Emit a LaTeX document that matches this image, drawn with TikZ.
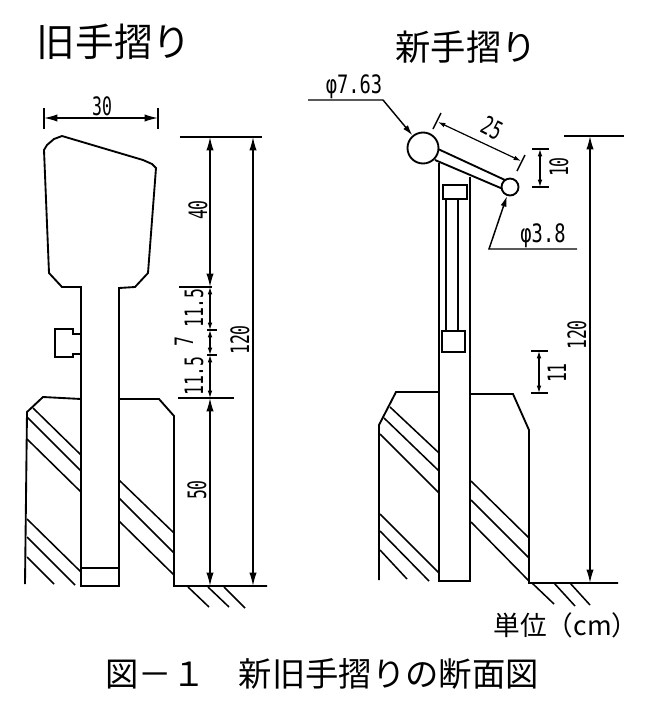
\documentclass[tikz,border=0pt]{standalone}
\usepackage{fontspec}
\usetikzlibrary{arrows.meta}
\newfontfamily\titlefont{Noto Sans CJK JP}
\newfontfamily\dimfont[FakeStretch=0.65]{DejaVu Sans Mono}
\newfontfamily\leaderfont[FakeStretch=0.74]{DejaVu Sans Mono}
\tikzset{
  wall/.style={line width=1.4pt, line join=miter},
  hatch/.style={line width=1.15pt},
  bigdim/.style={line width=1.1pt, {Latex[length=10pt,width=5.5pt]}-{Latex[length=10pt,width=5.5pt]}},
  smalldim/.style={line width=.9pt, {Latex[length=5.5pt,width=3.5pt]}-{Latex[length=5.5pt,width=3.5pt]}},
  leader/.style={line width=1.1pt, -{Latex[length=8pt,width=4.5pt]}},
  tick/.style={line width=1.1pt},
  dimtext/.style={inner sep=0pt, font=\dimfont\fontsize{19pt}{19pt}\selectfont},
  leadertext/.style={inner sep=0pt, font=\leaderfont\fontsize{19pt}{19pt}\selectfont},
  titletext/.style={inner sep=0pt, font=\titlefont\fontsize{#1}{#1}\selectfont},
}
\begin{document}
\begin{tikzpicture}[x=0.75pt,y=-0.75pt]
        \useasboundingbox (0,0) rectangle (650,714);
        % titles
        \node[titletext=29pt] at (114,42)  (oldtitle) {旧手摺り};
        \node[titletext=26.5pt] at (466,47)  (newtitle) {新手摺り};
        \node[titletext=20pt] at (566,625) (unit) {単位（cm）};
        \node[titletext=25pt] at (322,674) (caption) {図－１　新旧手摺りの断面図};
        % old rail
        \draw[wall] (81,586) -- (81,287) -- (62,287) -- (49,273) -- (44,150) -- (47,145) -- (54,139) -- (62,136)
          -- (143,160) -- (152,164) -- (156,168) -- (148,273) -- (135,287) -- (119,288) -- (119,586) -- cycle;
        \draw[wall] (81,568) -- (119,568);
        \draw[wall] (81,334) -- (73,334) -- (73,329) -- (55,329) -- (55,357) -- (73,357) -- (73,354) -- (81,354);
        % old wall
        \draw[wall] (25,584) -- (27,412) -- (43,397) -- (81,399);
        \draw[wall] (119,399) -- (159,399) -- (174,416) -- (174,586) -- (267,586);
        \draw[hatch] (33,408) -- (81,455);
        \draw[hatch] (27,417) -- (81,471);
        \draw[hatch] (27,439) -- (81,492);
        \draw[hatch] (27,519) -- (81,572);
        \draw[hatch] (27,537) -- (75,585);
        \draw[hatch] (27,557) -- (54,584);
        \draw[hatch] (119,480) -- (174,533);
        \draw[hatch] (119,498) -- (174,553);
        \draw[hatch] (119,521) -- (174,575);
        \draw[hatch] (188,587) -- (209,607);
        \draw[hatch] (208,587) -- (229,607);
        \draw[hatch] (224,587) -- (245,608);
        % old dimensions
        \coordinate (wa) at (44,118);
        \coordinate (wb) at (158,118);
        \coordinate (ha) at (210,137);
        \coordinate (hb) at (210,287);
        \coordinate (hc) at (210,330);
        \coordinate (hd) at (210,355);
        \coordinate (he) at (210,398);
        \coordinate (hf) at (210,586);
        \coordinate (ta) at (253,137);
        \coordinate (tb) at (253,586);
        \draw[tick] (44,108) -- (44,129);
        \draw[tick] (158,108) -- (158,129);
        \draw[tick] (180,137) -- (262,137);
        \draw[tick] (179,287) -- (212,287);
        \draw[tick] (207,330) -- (217,330);
        \draw[tick] (207,355) -- (217,355);
        \draw[tick] (178,398) -- (234,398);
        \draw[bigdim] (wa) -- (wb);
        \draw[bigdim] (ha) -- (hb);
        \draw[smalldim] (hb) -- (hc);
        \draw[smalldim] (hc) -- (hd);
        \draw[smalldim] (hd) -- (he);
        \draw[bigdim] (he) -- (hf);
        \draw[bigdim] (ta) -- (tb);
        \node[dimtext] at (102,106) (oldwidth) {30};
        \node[dimtext,rotate=90] at (198,210) (oldforty) {40};
        \node[dimtext,rotate=90] at (194,308) (olduppad) {11.5};
        \node[dimtext,rotate=90] at (184,342) (oldseven) {7};
        \node[dimtext,rotate=90] at (194,376) (oldlowpad) {11.5};
        \node[dimtext,rotate=90] at (197,490) (oldfifty) {50};
        \node[dimtext,rotate=90] at (240,340) (oldtotal) {120};
        % new rail
        \draw[wall] (439,163) -- (439,581) -- (470,581) -- (470,177);
        \draw[wall] (443,185) rectangle (467,199);
        \draw[wall] (442,331) rectangle (465,352);
        \draw[wall] (446,199) -- (446,331);
        \draw[wall] (458,199) -- (458,331);
        \draw[wall] (438,149) -- (505,180);
        \draw[wall] (435,160) -- (503,189);
        \node[circle,draw,wall,fill=white,minimum size=31pt*0.75,inner sep=0pt] at (423,148) (bigrail) {};
        \node[circle,draw,wall,fill=white,minimum size=17pt*0.75,inner sep=0pt] at (510,187) (smallrail) {};
        % new wall
        \draw[wall] (379,580) -- (379,425) -- (396,392) -- (439,392);
        \draw[wall] (470,394) -- (513,394) -- (529,430) -- (529,583) -- (618,583);
        \draw[hatch] (390,407) -- (439,453);
        \draw[hatch] (384,418) -- (439,471);
        \draw[hatch] (380,434) -- (439,493);
        \draw[hatch] (380,514) -- (439,573);
        \draw[hatch] (380,531) -- (429,581);
        \draw[hatch] (380,550) -- (407,579);
        \draw[hatch] (471,481) -- (529,538);
        \draw[hatch] (471,500) -- (529,558);
        \draw[hatch] (471,522) -- (529,581);
        \draw[hatch] (532,583) -- (554,604);
        \draw[hatch] (554,583) -- (575,606);
        \draw[hatch] (570,583) -- (590,605);
        % new dimensions
        \coordinate (la) at (308,100);
        \coordinate (lb) at (383,100);
        \coordinate (lc) at (577,249);
        \coordinate (ld) at (489,249);
        \coordinate (ra) at (438,122);
        \coordinate (rb) at (521,161);
        \coordinate (da) at (540,149);
        \coordinate (db) at (540,187);
        \coordinate (ea) at (539,351);
        \coordinate (eb) at (539,393);
        \coordinate (fa) at (590,136);
        \coordinate (fb) at (590,583);
        \draw[tick] (441,113) -- (433,129);
        \draw[tick] (525,155) -- (517,171);
        \draw[tick] (532,149) -- (549,149);
        \draw[tick] (532,187) -- (549,187);
        \draw[tick] (531,351) -- (548,351);
        \draw[tick] (531,393) -- (548,393);
        \draw[tick] (564,136) -- (624,136);
        \draw[leader] (la) -- (lb) -- (bigrail);
        \draw[leader] (lc) -- (ld) -- (smallrail);
        \draw[smalldim] (ra) -- (rb);
        \draw[smalldim] (da) -- (db);
        \draw[smalldim] (ea) -- (eb);
        \draw[bigdim] (fa) -- (fb);
        \node[leadertext] at (354,87) (bigdia) {φ7.63};
        \node[leadertext] at (543,236) (smalldia) {φ3.8};
        \node[dimtext,rotate=-27] at (492,128) (newlength) {25};
        \node[dimtext,rotate=90] at (559,167) (newten) {10};
        \node[dimtext,rotate=90] at (557,373) (neweleven) {11};
        \node[dimtext,rotate=90] at (577,335) (newtotal) {120};
      \end{tikzpicture}
\end{document}
